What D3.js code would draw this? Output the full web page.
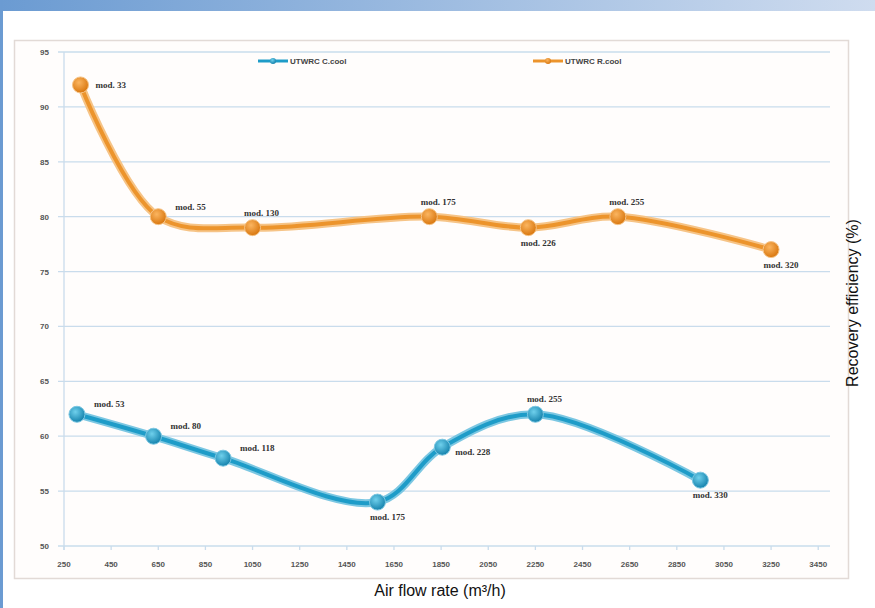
<!DOCTYPE html>
<html><head><meta charset="utf-8">
<script src="https://cdn.jsdelivr.net/npm/d3@7"></script>
<style>body{margin:0;background:#fff;}svg{display:block;}</style>
</head><body>
<svg id="c" width="875" height="608"></svg>
<script>
// ---- data ----
const yTicks = [50, 55, 60, 65, 70, 75, 80, 85, 90, 95];
const xTicks = [250, 450, 650, 850, 1050, 1250, 1450, 1650, 1850, 2050, 2250, 2450, 2650, 2850, 3050, 3250, 3450];
const seriesNames = ["UTWRC C.cool", "UTWRC R.cool"];
const blueX = [305, 630, 925, 1580, 1855, 2250, 2950];
const blueY = [62, 60, 58, 54, 59, 62, 56];
const blueLabels = ["mod. 53", "mod. 80", "mod. 118", "mod. 175", "mod. 228", "mod. 255", "mod. 330"];
const bluePlace = ["ne", "ne", "ne", "s", "se", "n", "s"];
const orangeX = [320, 650, 1050, 1800, 2220, 2600, 3250];
const orangeY = [92, 80, 79, 80, 79, 80, 77];
const orangeLabels = ["mod. 33", "mod. 55", "mod. 130", "mod. 175", "mod. 226", "mod. 255", "mod. 320"];
const orangePlace = ["e", "ne", "n", "n", "s", "n", "s"];
const xTitle = "Air flow rate (m³/h)";
const yTitle = "Recovery efficiency (%)";

const svg = d3.select("#c");
const defs = svg.append("defs");
const tg = defs.append("linearGradient").attr("id","topg").attr("x1","0").attr("x2","1");
tg.append("stop").attr("offset","0").attr("stop-color","#6b9bd2");
tg.append("stop").attr("offset","1").attr("stop-color","#cfdcef");
function rg(id, c0, c1){
  const g = defs.append("radialGradient").attr("id",id).attr("cx","0.4").attr("cy","0.35").attr("r","0.65");
  g.append("stop").attr("offset","0").attr("stop-color",c0);
  g.append("stop").attr("offset","1").attr("stop-color",c1);
}
rg("gb","#6fd0ec","#1683ad");
rg("go","#fbb560","#d9770f");

// page decoration
svg.append("rect").attr("x",0).attr("y",0).attr("width",875).attr("height",11).attr("fill","url(#topg)");
svg.append("rect").attr("x",0).attr("y",0).attr("width",3).attr("height",608).attr("fill","#6b9bd2");

// chart frame
svg.append("rect").attr("x",14.5).attr("y",40.5).attr("width",834).attr("height",538)
  .attr("fill","#fffdfc").attr("stroke","#e2dad6").attr("stroke-width",1.5);

const x = d3.scaleLinear().domain([250, 3500]).range([64, 830]);
const y = d3.scaleLinear().domain([50, 95]).range([546, 52]);

// gridlines
svg.append("g").selectAll("line").data(yTicks).join("line")
  .attr("x1", 58).attr("x2", 830).attr("y1", d=>y(d)).attr("y2", d=>y(d))
  .attr("stroke","#c9dcec").attr("stroke-width",1.3);
svg.append("line").attr("x1",64).attr("x2",64).attr("y1",y(95)).attr("y2",y(50)+4)
  .attr("stroke","#c9dcec").attr("stroke-width",1.3);
svg.append("g").selectAll("line").data(xTicks).join("line")
  .attr("x1", d=>x(d)).attr("x2", d=>x(d)).attr("y1", y(50)).attr("y2", y(50)+4)
  .attr("stroke","#c9dcec").attr("stroke-width",1.3);

// axis labels
svg.append("g").selectAll("text").data(yTicks).join("text")
  .attr("x", 49).attr("y", d=>y(d)+3).attr("text-anchor","end")
  .attr("font-family","Liberation Sans, Arial").attr("font-size",8).attr("font-weight","bold")
  .attr("fill","#555").text(d=>d);
svg.append("g").selectAll("text").data(xTicks).join("text")
  .attr("x", d=>x(d)).attr("y", 567).attr("text-anchor","middle")
  .attr("font-family","Liberation Sans, Arial").attr("font-size",8).attr("font-weight","bold")
  .attr("fill","#555").text(d=>d);

// titles
svg.append("text").attr("x",440).attr("y",596).attr("text-anchor","middle")
  .attr("font-family","Liberation Sans, Arial").attr("font-size",16).attr("fill","#111").text(xTitle);
svg.append("text").attr("transform","translate(858,303) rotate(-90)").attr("text-anchor","middle")
  .attr("font-family","Liberation Sans, Arial").attr("font-size",16).attr("fill","#111").text(yTitle);

const line = d3.line().x(d=>x(d[0])).y(d=>y(d[1])).curve(d3.curveCatmullRom.alpha(0.5));

function drawSeries(xs, ys, labels, place, color, halo, grad){
  const pts = xs.map((v,i)=>[v, ys[i]]);
  const g = svg.append("g");
  g.append("path").attr("d", line(pts)).attr("fill","none").attr("stroke",halo).attr("stroke-width",8).attr("stroke-linecap","round");
  g.append("path").attr("d", line(pts)).attr("fill","none").attr("stroke",color).attr("stroke-width",4).attr("stroke-linecap","round");
  g.selectAll("circle").data(pts).join("circle")
    .attr("cx", d=>x(d[0])).attr("cy", d=>y(d[1])).attr("r", 8)
    .attr("fill", `url(#${grad})`).attr("stroke", halo).attr("stroke-width",1);
  const P = {e:[15,3,"start"], ne:[17,-7,"start"], n:[9,-12,"middle"], s:[10,18,"middle"], se:[13,8,"start"]};
  g.selectAll("text").data(pts).join("text")
    .attr("x", (d,i)=>x(d[0])+P[place[i]][0]).attr("y",(d,i)=>y(d[1])+P[place[i]][1])
    .attr("text-anchor",(d,i)=>P[place[i]][2])
    .attr("font-family","Liberation Serif, Times New Roman").attr("font-size",9).attr("font-weight","bold")
    .attr("fill","#333").text((d,i)=>labels[i]);
}
drawSeries(orangeX, orangeY, orangeLabels, orangePlace, "#ec942c", "#f6c487", "go");
drawSeries(blueX, blueY, blueLabels, bluePlace, "#1e9cc8", "#7cc7e2", "gb");

// legend
const leg = [{n:seriesNames[0], c:"#1e9cc8", g:"gb", x:258}, {n:seriesNames[1], c:"#ec942c", g:"go", x:533}];
const lg = svg.append("g").selectAll("g").data(leg).join("g").attr("transform", d=>`translate(${d.x},61)`);
lg.append("line").attr("x1",0).attr("x2",30).attr("stroke",d=>d.c).attr("stroke-width",3);
lg.append("circle").attr("cx",15).attr("r",3).attr("fill",d=>`url(#${d.g})`);
lg.append("text").attr("x",32).attr("y",3).attr("font-family","Liberation Sans, Arial")
  .attr("font-size",8).attr("font-weight","bold").attr("fill","#444").text(d=>d.n);
</script>
</body></html>
